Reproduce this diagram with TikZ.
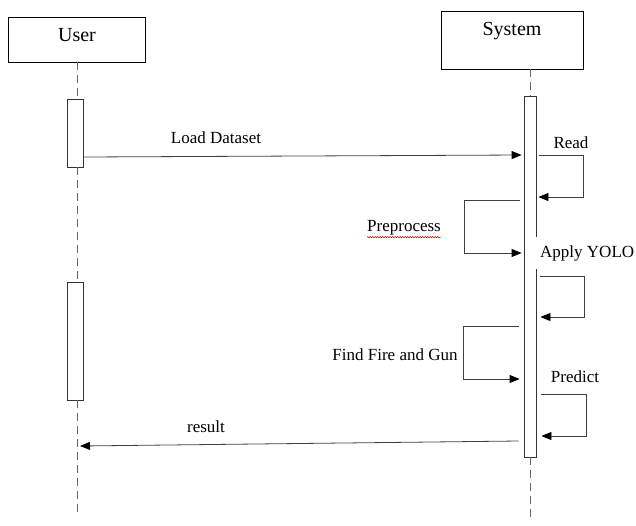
\documentclass[tikz,border=0pt]{standalone}
\usepackage{fontspec}
\setmainfont{Liberation Serif}
\usetikzlibrary{arrows.meta,decorations.pathmorphing}

\begin{document}
\begin{tikzpicture}[x=1pt,y=-1pt,
  actor/.style={draw=black,line width=0.9pt,inner sep=0pt},
  actorname/.style={font=\fontsize{20}{24}\selectfont,inner sep=0pt,anchor=north,yshift=-12pt},
  actbar/.style={draw=black!80,line width=0.8pt,fill=white,inner sep=0pt},
  life/.style={draw=black!60,line width=0.8pt,dash pattern=on 8pt off 5pt},
  msg/.style={draw=black!75,line width=0.8pt,-{Triangle[length=10pt,width=8pt,color=black]}},
  lbl/.style={font=\fontsize{17}{20}\selectfont,inner sep=0pt}]

\useasboundingbox (0,0) rectangle (636,525);

% participants
\node[actor,minimum width=137pt,minimum height=45pt,
      label={[actorname]north:User}] (user) at (77,39.5) {};
\node[actor,minimum width=142pt,minimum height=58pt,
      label={[actorname]north:System}] (sys) at (512,40) {};

% activation bars
\node[actbar,minimum width=16pt,minimum height=68pt]  (ua1) at (75.5,133) {};
\node[actbar,minimum width=16pt,minimum height=118pt] (ua2) at (75.5,341) {};
\node[actbar,minimum width=12pt,minimum height=361pt] (sa)  at (530,276.5) {};

% lifelines
\coordinate (uend) at (77,512);
\coordinate (send) at (530,522);
\draw[life] (user.south) -- (user.south |- ua1.north);
\draw[life] (user.south |- ua1.south) -- (user.south |- ua2.north);
\draw[life] (user.south |- ua2.south) -- (uend);
\draw[life] (sa.north |- sys.south) -- (sa.north);
\draw[life] (sa.south) -- (send);

% message levels
\coordinate (ld1) at (0,157);   \coordinate (ld2) at (0,155);
\coordinate (rd1) at (583,155); \coordinate (rd2) at (583,197);
\coordinate (pp1) at (464,200); \coordinate (pp2) at (464,253);
\coordinate (ay1) at (584,276); \coordinate (ay2) at (584,317);
\coordinate (ff1) at (463,326); \coordinate (ff2) at (463,379);
\coordinate (pr1) at (586,394); \coordinate (pr2) at (586,436);
\coordinate (rs1) at (0,441);   \coordinate (rs2) at (80,446);

% Load Dataset
\draw[msg] (ua1.east |- ld1) -- ([xshift=-2pt]sa.west |- ld2);
\node[lbl] (tld) at (216,138) {Load Dataset};

% Read
\draw[msg] ([xshift=3pt]sa.east |- rd1) -- (rd1) -- (rd2) -- ([xshift=2pt]sa.east |- rd2);
\node[lbl] (trd) at (571,142.5) {Read};

% Preprocess
\draw[msg] ([xshift=-4pt]sa.west |- pp1) -- (pp1) -- (pp2) -- ([xshift=-2pt]sa.west |- pp2);
\node[lbl] (tpp) at (404,228) {Preprocess};
\draw[red!80!black,line width=0.5pt,decorate,
      decoration={snake,amplitude=0.6pt,segment length=2.5pt}]
  ([yshift=-1.5pt]tpp.south west) -- ([yshift=-1.5pt]tpp.south east);

% Apply YOLO
\node[lbl,fill=white,inner xsep=5pt,inner ysep=8pt,anchor=west] (tay) at (535,253) {Apply YOLO};
\draw[msg] ([xshift=4pt]sa.east |- ay1) -- (ay1) -- (ay2) -- ([xshift=4pt]sa.east |- ay2);

% Find Fire and Gun
\draw[msg] ([xshift=-5pt]sa.west |- ff1) -- (ff1) -- (ff2) -- ([xshift=-4pt]sa.west |- ff2);
\node[lbl] (tff) at (395,355) {Find Fire and Gun};

% Predict
\draw[msg] ([xshift=5pt]sa.east |- pr1) -- (pr1) -- (pr2) -- ([xshift=5pt]sa.east |- pr2);
\node[lbl] (tpr) at (575,377) {Predict};

% result
\draw[msg] ([xshift=-5pt]sa.west |- rs1) -- (rs2);
\node[lbl] (trs) at (206,427) {result};

\end{tikzpicture}
\end{document}
